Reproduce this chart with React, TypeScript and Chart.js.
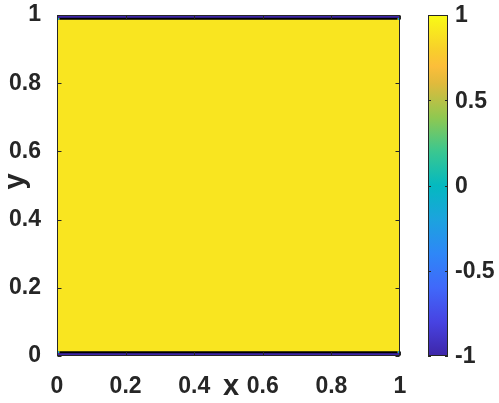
import React, { useEffect, useRef } from "react";
import { Chart, registerables } from "chart.js";

Chart.register(...registerables);

// ---- data ----
const xEdges = [0, 0.007, 0.993, 1];
const yEdges = [0, 0.008, 0.014, 0.986, 0.992, 1];
// rows bottom -> top, columns left -> right
const cellValues = [
  [-1, -1, -1],
  [-0.1, 0.9, -0.1],
  [0.9, 0.9, 0.9],
  [-0.1, 0.9, -0.1],
  [-1, -1, -1],
];
const bottomContour = [
  { x: 0.007, y: 0.011 },
  { x: 0.993, y: 0.011 },
];
const topContour = [
  { x: 0.007, y: 0.989 },
  { x: 0.993, y: 0.989 },
];
const xTicks = [0, 0.2, 0.4, 0.6, 0.8, 1];
const yTicks = [0, 0.2, 0.4, 0.6, 0.8, 1];
const cbTicks = [-1, -0.5, 0, 0.5, 1];
const cbMin = -1;
const cbMax = 1;

// ---- styles ----
const FONT = "'Liberation Sans', Arial, sans-serif";
const AXIS = "#262626";
const parula: [number, number, number, number][] = [
  [0.0, 62, 38, 168],
  [0.1, 71, 67, 226],
  [0.2, 64, 104, 250],
  [0.3, 46, 135, 247],
  [0.4, 28, 163, 222],
  [0.5, 4, 185, 192],
  [0.6, 58, 199, 144],
  [0.7, 144, 200, 80],
  [0.8, 225, 186, 60],
  [0.85, 252, 190, 58],
  [0.9, 248, 208, 42],
  [1.0, 249, 251, 21],
];

function colorFor(v: number): string {
  let t = (v - cbMin) / (cbMax - cbMin);
  t = Math.max(0, Math.min(1, t));
  for (let i = 1; i < parula.length; i++) {
    if (t <= parula[i][0]) {
      const a = parula[i - 1];
      const b = parula[i];
      const f = (t - a[0]) / (b[0] - a[0]);
      const r = Math.round(a[1] + (b[1] - a[1]) * f);
      const g = Math.round(a[2] + (b[2] - a[2]) * f);
      const bl = Math.round(a[3] + (b[3] - a[3]) * f);
      return `rgb(${r},${g},${bl})`;
    }
  }
  return "rgb(249,251,21)";
}

const heatPlugin = {
  id: "heat",
  beforeDatasetsDraw(chart: any) {
    const { ctx, chartArea: a, scales } = chart;
    const xs = scales.x;
    const ys = scales.y;
    ctx.save();
    ctx.beginPath();
    ctx.rect(a.left, a.top, a.right - a.left, a.bottom - a.top);
    ctx.clip();
    for (let r = 0; r < cellValues.length; r++) {
      const yb = Math.round(ys.getPixelForValue(yEdges[r]));
      const yt = Math.round(ys.getPixelForValue(yEdges[r + 1]));
      for (let c = 0; c < cellValues[r].length; c++) {
        const xl = Math.round(xs.getPixelForValue(xEdges[c]));
        const xr = Math.round(xs.getPixelForValue(xEdges[c + 1]));
        ctx.fillStyle = colorFor(cellValues[r][c]);
        ctx.fillRect(xl, yt, xr - xl, yb - yt);
      }
    }
    ctx.restore();
  },
  afterDraw(chart: any) {
    const { ctx, chartArea: a, scales } = chart;
    const xs = scales.x;
    const ys = scales.y;
    ctx.save();
    ctx.strokeStyle = AXIS;
    ctx.lineWidth = 1;
    const L = Math.round(a.left) + 0.5;
    const R = Math.round(a.right) - 0.5;
    const T = Math.round(a.top) + 0.5;
    const B = Math.round(a.bottom) - 0.5;
    ctx.strokeRect(L, T, R - L, B - T);
    const tl = 4;
    ctx.beginPath();
    for (const v of xTicks) {
      const px = Math.round(xs.getPixelForValue(v)) + 0.5;
      ctx.moveTo(px, B);
      ctx.lineTo(px, B - tl);
      ctx.moveTo(px, T);
      ctx.lineTo(px, T + tl);
    }
    for (const v of yTicks) {
      const py = Math.round(ys.getPixelForValue(v)) + 0.5;
      ctx.moveTo(L, py);
      ctx.lineTo(L + tl, py);
      ctx.moveTo(R, py);
      ctx.lineTo(R - tl, py);
    }
    ctx.stroke();

    // colorbar
    const cbL = 428;
    const cbR = 448;
    const cbT = a.top;
    const cbB = a.bottom;
    const grad = ctx.createLinearGradient(0, cbB, 0, cbT);
    for (const s of parula) {
      grad.addColorStop(s[0], `rgb(${s[1]},${s[2]},${s[3]})`);
    }
    ctx.fillStyle = grad;
    ctx.fillRect(cbL, cbT, cbR - cbL, cbB - cbT);
    ctx.strokeRect(cbL + 0.5, Math.round(cbT) + 0.5, cbR - cbL - 1, Math.round(cbB - cbT) - 1);
    const cbPix = (v: number) => cbB - ((v - cbMin) / (cbMax - cbMin)) * (cbB - cbT);
    ctx.beginPath();
    for (const v of cbTicks) {
      const py = Math.round(cbPix(v)) + 0.5;
      ctx.moveTo(cbL, py);
      ctx.lineTo(cbL + 3, py);
      ctx.moveTo(cbR, py);
      ctx.lineTo(cbR - 3, py);
    }
    ctx.stroke();
    ctx.fillStyle = AXIS;
    ctx.font = `bold 23px ${FONT}`;
    ctx.textAlign = "left";
    ctx.textBaseline = "middle";
    for (const v of cbTicks) {
      ctx.fillText(String(v), 455, cbPix(v) + 1);
    }

    // axis titles
    ctx.font = `bold 29px ${FONT}`;
    ctx.textAlign = "center";
    ctx.textBaseline = "alphabetic";
    ctx.fillText("x", 231, 395);
    ctx.translate(24, (a.top + a.bottom) / 2 - 4);
    ctx.rotate(-Math.PI / 2);
    ctx.fillText("y", 0, 0);
    ctx.restore();
  },
};

export default function App() {
  const ref = useRef<HTMLCanvasElement | null>(null);
  useEffect(() => {
    if (!ref.current) return;
    const tickFont = { family: FONT, size: 23, weight: "bold" as const };
    const chart = new Chart(ref.current, {
      type: "scatter",
      data: {
        datasets: [
          {
            data: bottomContour,
            showLine: true,
            borderColor: "#000000",
            borderWidth: 2,
            pointRadius: 0,
          },
          {
            data: topContour,
            showLine: true,
            borderColor: "#000000",
            borderWidth: 2,
            pointRadius: 0,
          },
        ],
      },
      options: {
        responsive: false,
        animation: false,
        devicePixelRatio: 1,
        layout: { padding: { left: 0, top: 15, right: 99, bottom: 0 } },
        plugins: { legend: { display: false }, tooltip: { enabled: false } },
        scales: {
          x: {
            type: "linear",
            min: 0,
            max: 1,
            grid: { display: false },
            border: { display: false },
            afterBuildTicks: (s: any) => {
              s.ticks = xTicks.map((v) => ({ value: v }));
            },
            afterFit: (s: any) => {
              s.height = 47;
              s.paddingLeft = 0;
              s.paddingRight = 0;
              s.paddingTop = 0;
              s.paddingBottom = 0;
            },
            ticks: {
              font: tickFont,
              color: AXIS,
              padding: 9,
              maxRotation: 0,
              autoSkip: false,
              callback: (v: any) => String(v),
            },
          },
          y: {
            type: "linear",
            min: 0,
            max: 1,
            grid: { display: false },
            border: { display: false },
            afterBuildTicks: (s: any) => {
              s.ticks = yTicks.map((v) => ({ value: v }));
            },
            afterFit: (s: any) => {
              s.width = 57;
              s.paddingLeft = 0;
              s.paddingRight = 0;
              s.paddingTop = 0;
              s.paddingBottom = 0;
            },
            ticks: {
              font: tickFont,
              color: AXIS,
              padding: 8,
              autoSkip: false,
              callback: (v: any) => String(v),
            },
          },
        },
      },
      plugins: [heatPlugin],
    });
    return () => chart.destroy();
  }, []);
  return (
    <div style={{ position: "absolute", left: 0, top: 0, width: 499, height: 403, background: "#fff" }}>
      <canvas ref={ref} width={499} height={403} />
    </div>
  );
}
